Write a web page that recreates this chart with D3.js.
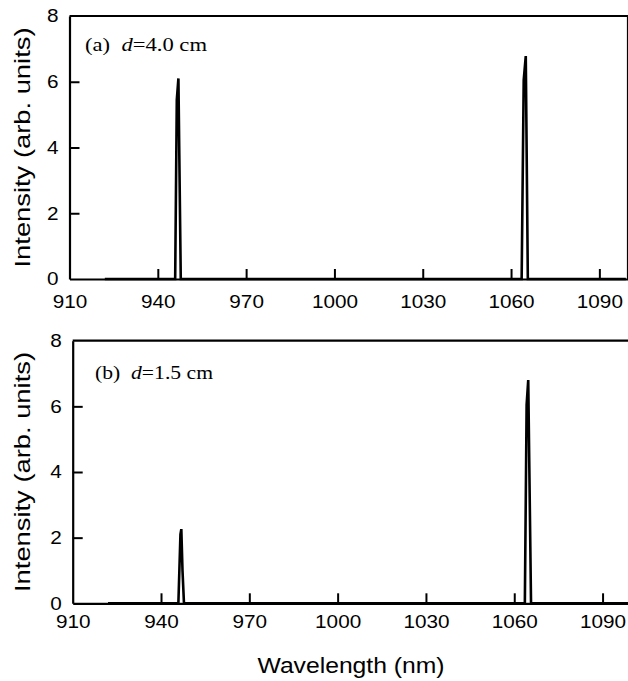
<!DOCTYPE html>
<html><head><meta charset="utf-8">
<script src="https://cdn.jsdelivr.net/npm/d3@7"></script>
<style>body{margin:0;background:#fff}svg{display:block}</style>
</head><body>
<script>
// ---- data ----
const xTicks = [910, 940, 970, 1000, 1030, 1060, 1090];
const yTicks = [0, 2, 4, 6, 8];
const wavelengthA = [922, 945.9, 946.45, 947.0, 947.8, 1063.6, 1064.3, 1065.0, 1065.7, 1099];
const intensityA  = [0,   0,     5.45,   6.1,   0,     0,      6.05,   6.78,   0,      0];
const wavelengthB = [922, 945.9, 946.6, 946.9, 947.3, 947.8, 1063.6, 1064.2, 1064.75, 1065.7, 1099];
const intensityB  = [0,   0,     2.1,   2.26,  1.0,   0,     0,      6.05,   6.8,     0,      0];
const panelTags = ["(a)", "(b)"];
const distances = ["4.0", "1.5"];
const xLabel = "Wavelength (nm)";
const yLabel = "Intensity (arb. units)";

const W = 628, H = 681;
const svg = d3.select("body").append("svg").attr("width", W).attr("height", H);

const panels = [
  {wl: wavelengthA, it: intensityA, left: 69.5, right: 628.8, top: 16, bottom: 279, pad: 16, tag: panelTags[0], dist: distances[0], ax: 85, ay: 51, aLen: 122, rightBorder: true},
  {wl: wavelengthB, it: intensityB, left: 72.7, right: 632, top: 340.7, bottom: 603.3, pad: 12, tag: panelTags[1], dist: distances[1], ax: 95, ay: 379.3, aLen: 118, rightBorder: false}
];

function stretch(sel, f) {
  sel.each(function() {
    const l = this.getComputedTextLength();
    d3.select(this).attr("textLength", l * f).attr("lengthAdjust", "spacingAndGlyphs");
  });
}

panels.forEach(p => {
  const x = d3.scaleLinear().domain([910, 1100]).range([p.left, p.right]);
  const y = d3.scaleLinear().domain([0, 8]).range([p.bottom, p.top]);
  const g = svg.append("g");

  // data line
  const pts = p.wl.map((w, i) => [w, p.it[i]]);
  g.append("path").datum(pts)
    .attr("d", d3.line().x(d => x(d[0])).y(d => y(d[1])))
    .attr("fill", "none").attr("stroke", "#000").attr("stroke-width", 2.6)
    .attr("stroke-linejoin", "miter");

  // bottom axis
  const xa = g.append("g").attr("transform", `translate(0,${p.bottom})`)
    .call(d3.axisBottom(x).tickValues(xTicks).tickFormat(d3.format("d"))
      .tickSizeInner(-10).tickSizeOuter(0).tickPadding(p.pad));
  // left axis
  const ya = g.append("g").attr("transform", `translate(${p.left},0)`)
    .call(d3.axisLeft(y).tickValues(yTicks).tickFormat(d3.format("d"))
      .tickSizeInner(-10).tickSizeOuter(0).tickPadding(11));
  [xa, ya].forEach(a => {
    a.select(".domain").attr("stroke-width", 2.2);
    a.selectAll(".tick line").attr("stroke-width", 2);
    a.selectAll("text").attr("font-family", "Liberation Sans, Arial, sans-serif")
      .attr("font-size", 18.5).attr("fill", "#000");
  });
  xa.selectAll(".tick").filter(d => d === 910).select("line").remove();
  ya.selectAll(".tick").filter(d => d === 0 || d === 8).select("line").remove();
  stretch(xa.selectAll("text"), 1.12);
  stretch(ya.selectAll("text"), 1.12);

  // top border
  g.append("line").attr("x1", p.left).attr("x2", Math.min(p.right, W))
    .attr("y1", p.top).attr("y2", p.top).attr("stroke", "#000").attr("stroke-width", 2.2);
  if (p.rightBorder) {
    g.append("line").attr("x1", 627.5).attr("x2", 627.5)
      .attr("y1", p.top).attr("y2", p.bottom).attr("stroke", "#000").attr("stroke-width", 1.2);
  }

  // annotation
  const t = g.append("text").attr("x", p.ax).attr("y", p.ay)
    .attr("font-family", "Liberation Serif, Times New Roman, serif").attr("font-size", 19.5)
    .attr("xml:space", "preserve").style("white-space", "pre");
  t.append("tspan").text(p.tag + "  ");
  t.append("tspan").attr("font-style", "italic").text("d");
  t.append("tspan").text("=" + p.dist + " cm");
  t.attr("textLength", p.aLen).attr("lengthAdjust", "spacingAndGlyphs");

  // y label
  svg.append("text")
    .attr("transform", `translate(29.5,${(p.top + p.bottom) / 2}) rotate(-90)`)
    .attr("text-anchor", "middle")
    .attr("font-family", "Liberation Sans, Arial, sans-serif").attr("font-size", 22.5)
    .attr("textLength", 240).attr("lengthAdjust", "spacingAndGlyphs")
    .text(yLabel);
});

svg.append("text").attr("x", 351).attr("y", 673).attr("text-anchor", "middle")
  .attr("font-family", "Liberation Sans, Arial, sans-serif").attr("font-size", 22)
  .attr("textLength", 187).attr("lengthAdjust", "spacingAndGlyphs")
  .text(xLabel);
</script>
</body></html>
